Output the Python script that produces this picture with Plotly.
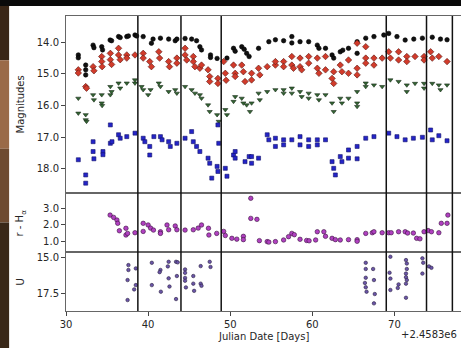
import plotly.graph_objects as go
from plotly.subplots import make_subplots

# ---------------- data ----------------
black_d = [31.5,31.5,32.4,32.4,32.4,33.3,33.4,34.35,34.45,35.37,35.55,36.4,36.6,37.4,37.6,38.4,38.6,39.4,40.4,40.6,41.5,42.5,43.3,43.5,44.5,45.3,45.9,46.3,46.5,47.6,47.6,48.4,49.6,50.4,50.6,51.4,51.7,52.0,52.3,53.45,54.7,55.5,56.5,57.5,57.5,58.5,59.55,60.6,60.8,61.6,62.4,62.6,63.4,63.7,64.4,65.45,65.45,66.5,67.5,68.7,69.3,70.3,71.3,72.35,73.4,74.6,75.6,76.4]
black_m = [14.40,14.49,14.72,14.87,15.03,14.09,14.17,14.14,14.24,13.93,13.95,13.82,13.85,13.82,13.80,13.77,13.80,13.82,14.03,13.90,13.87,13.90,13.95,13.90,13.88,13.90,13.95,14.14,14.24,14.40,14.48,14.51,14.50,14.19,14.28,14.14,14.22,14.35,14.45,14.19,13.98,13.92,13.95,13.82,14.02,13.98,13.98,14.09,14.19,14.19,14.40,14.50,14.30,14.25,14.19,13.98,14.35,13.87,13.82,13.77,13.72,13.82,13.93,13.90,13.87,13.84,13.90,13.92]

red_d = [31.5,31.5,32.4,32.5,33.3,33.4,34.35,34.35,34.4,35.4,35.4,35.55,36.4,36.4,36.6,37.4,37.4,38.4,39.4,39.4,40.2,40.4,41.3,41.4,42.5,42.6,43.5,43.5,44.5,44.5,44.7,45.5,45.5,45.7,46.3,46.5,47.3,47.5,47.5,48.5,48.5,49.2,49.4,49.5,50.4,50.6,50.6,51.4,51.6,51.8,52.6,52.6,53.45,53.6,54.5,55.5,55.5,56.5,56.5,57.5,57.5,57.7,58.5,58.5,58.7,59.55,59.55,60.6,60.6,60.8,61.6,61.6,62.4,62.6,62.6,63.4,63.6,64.4,64.4,65.45,65.45,65.45,66.5,66.5,66.5,67.5,67.5,68.5,69.3,69.5,70.5,70.5,71.5,71.5,72.5,73.6,73.6,74.4,74.6,75.4,76.4]
red_m = [14.87,14.97,15.40,15.45,14.77,14.90,14.45,14.61,14.77,14.35,14.55,14.70,14.19,14.40,14.55,14.40,14.50,14.40,14.35,14.50,14.61,14.77,14.30,14.50,14.61,14.77,14.50,14.66,14.19,14.40,14.56,14.45,14.61,14.77,14.82,14.72,14.87,15.08,15.24,15.14,15.30,14.61,14.98,15.20,14.72,14.98,15.08,14.72,14.93,15.24,15.19,14.98,14.82,15.03,14.77,14.72,14.61,14.61,14.77,14.45,14.72,14.82,14.50,14.77,14.87,14.45,14.66,14.50,14.82,14.98,14.45,14.87,15.14,15.30,14.93,14.72,14.93,14.56,14.98,14.03,14.82,15.03,14.14,14.50,14.66,14.50,14.72,14.50,14.30,14.50,14.30,14.56,14.45,14.61,14.45,14.45,14.56,14.30,14.50,14.45,14.61]

green_d = [31.5,31.5,32.4,32.4,32.5,33.3,33.4,34.35,34.35,34.4,35.4,35.4,35.55,36.4,36.6,37.4,38.4,38.4,39.2,39.4,40.0,40.3,41.3,41.5,42.5,43.3,43.5,44.5,45.3,45.7,46.3,46.5,47.3,47.5,48.4,48.6,49.4,49.6,50.4,50.6,51.4,51.6,52.0,52.4,52.6,53.45,53.6,54.5,55.5,56.5,56.5,57.5,57.5,58.5,58.7,59.55,59.55,60.6,60.8,61.6,62.4,62.6,63.4,63.6,64.4,65.45,65.45,65.45,66.5,66.5,67.5,68.5,69.5,70.5,71.5,71.5,72.5,73.6,73.6,74.6,75.4,75.6,76.4]
green_m = [15.77,16.24,16.29,16.45,16.50,15.66,15.82,15.66,15.92,16.00,15.40,15.66,15.56,15.29,15.45,15.29,15.19,15.29,15.40,15.50,15.66,15.50,15.29,15.40,15.56,15.50,15.61,15.40,15.50,15.61,15.66,15.77,15.98,16.19,16.29,16.50,16.13,16.29,15.87,15.72,15.77,15.92,15.98,16.19,15.92,15.61,15.82,15.56,15.50,15.50,15.61,15.45,15.61,15.56,15.72,15.61,15.77,15.66,15.82,15.66,15.92,16.19,15.77,15.92,15.77,15.56,15.92,16.03,15.29,15.40,15.35,15.40,15.19,15.24,15.35,15.56,15.30,15.30,15.45,15.30,15.35,15.50,15.35]

blue_d = [31.5,32.4,32.4,33.3,33.3,33.4,34.5,34.5,35.4,35.4,35.6,36.4,36.6,37.4,38.4,39.4,39.6,40.2,40.2,40.7,41.5,41.7,42.5,42.7,43.5,44.5,45.3,45.5,45.9,46.3,47.3,47.5,47.75,48.4,48.5,48.5,48.6,49.4,49.6,50.4,50.6,50.6,51.8,52.3,52.6,52.6,53.45,54.5,54.7,55.5,55.5,56.5,56.5,57.5,58.5,58.5,59.55,59.55,60.6,60.6,61.6,62.4,62.6,62.8,63.4,63.6,64.4,64.4,65.45,65.45,66.5,67.5,69.3,70.3,71.3,72.3,73.4,74.4,74.6,75.4,76.4]
blue_m = [17.71,18.19,18.45,17.14,17.45,17.68,17.45,17.55,16.61,17.19,17.14,16.92,17.03,16.98,16.87,17.03,17.14,17.29,17.56,16.98,16.98,17.08,17.14,17.29,17.19,17.03,16.82,17.14,17.29,17.45,17.66,17.82,18.29,17.92,18.08,16.61,17.19,17.98,18.23,17.56,17.45,17.66,17.77,17.61,17.61,17.82,17.66,16.92,17.08,17.03,17.29,17.08,17.24,17.08,16.98,17.24,17.08,17.29,17.08,17.24,17.08,17.77,17.98,18.19,17.61,17.77,17.40,17.66,17.29,17.68,17.03,16.98,16.87,16.98,17.08,17.03,17.00,16.77,17.08,16.95,17.11]

rha_d = [35.37,35.8,36.2,36.3,36.5,37.3,37.3,37.5,38.4,39.4,39.4,40.0,40.3,40.65,41.5,41.5,42.3,42.5,43.3,43.5,44.5,45.5,46.1,46.5,47.35,47.4,48.35,49.2,49.4,50.2,50.8,51.6,51.6,52.5,52.5,53.25,53.55,54.5,54.7,55.5,56.5,57.1,57.5,57.8,58.5,59.3,59.6,60.4,60.6,61.4,61.6,62.4,62.8,63.4,64.4,65.45,65.45,66.5,67.3,67.5,68.5,69.3,69.6,70.5,71.3,71.6,72.3,72.7,73.1,73.6,74.1,74.5,75.4,75.7,76.4,76.5]
rha_v = [2.59,2.45,2.29,2.09,1.64,1.79,1.38,1.48,1.52,2.09,1.60,1.99,1.80,1.68,1.58,1.48,1.99,1.70,1.93,1.70,1.68,1.70,1.80,1.99,1.79,1.38,1.48,1.60,1.35,1.18,1.13,1.30,1.10,3.61,2.39,2.33,1.04,0.98,0.95,0.98,1.08,1.28,1.48,1.40,1.12,1.05,1.03,1.08,1.58,1.58,1.30,1.18,1.10,1.08,1.10,1.10,1.00,1.48,1.52,1.58,1.52,1.52,1.52,1.58,1.58,1.50,1.50,1.18,1.15,1.58,1.65,1.58,1.52,2.09,2.09,2.59]

u_d = [37.6,37.6,37.5,37.5,38.5,38.5,38.3,40.45,40.45,41.5,41.4,41.55,42.5,42.4,42.5,42.6,43.4,43.6,43.5,43.4,44.5,44.5,44.5,44.5,44.6,45.5,45.5,45.6,46.4,46.5,46.4,47.5,47.6,66.5,66.5,66.5,66.4,66.5,66.6,67.4,67.5,67.6,67.5,69.5,69.4,69.5,69.5,70.4,70.5,71.4,71.5,71.5,71.4,71.4,71.5,71.4,71.4,73.4,73.5,73.4,74.2,74.5]
u_v = [15.51,15.85,16.55,17.94,15.74,16.90,17.20,15.35,16.90,15.85,16.00,17.36,15.28,15.60,16.43,17.00,15.28,15.32,16.27,17.87,15.81,16.05,16.40,16.60,17.06,16.27,16.80,17.30,16.80,16.95,15.58,15.28,15.64,15.35,15.78,16.39,16.75,17.05,17.36,15.78,16.55,17.52,18.17,14.93,16.04,16.45,17.24,17.10,16.85,15.16,15.40,15.78,16.10,16.35,16.55,16.80,17.78,15.04,15.35,16.10,15.60,15.70]

event_days = [38.75, 44.0, 48.9, 69.0, 73.9, 77.05]

x_ticks = [30, 40, 50, 60, 70]
mag_ticks = [14.0, 15.0, 16.0, 17.0, 18.0]
rha_ticks = [1.0, 2.0, 3.0]
u_ticks = [15.0, 17.5]

# ---------------- figure ----------------
fig = make_subplots(rows=3, cols=1, shared_xaxes=True, vertical_spacing=0,
                    row_heights=[0.6, 0.2, 0.2])

def add(x, y, row, sym, size, fill, edge):
    fig.add_trace(go.Scatter(x=x, y=y, mode="markers",
                             marker=dict(symbol=sym, size=size, color=fill,
                                         line=dict(color=edge, width=0.6)),
                             showlegend=False), row=row, col=1)

add(black_d, black_m, 1, "circle", 4.5, "#111111", "#000000")
add(red_d, red_m, 1, "diamond", 5, "#d13b2b", "#5a1a12")
add(green_d, green_m, 1, "triangle-down", 4.5, "#336633", "#1a2a1a")
add(blue_d, blue_m, 1, "square", 4, "#2424c8", "#12126a")
add(rha_d, rha_v, 2, "circle", 4.5, "#b040c0", "#3a1040")
add(u_d, u_v, 3, "circle", 3.5, "#6a55a8", "#2a2040")

for d in event_days:
    fig.add_shape(type="line", x0=d, x1=d, y0=0, y1=1, xref="x", yref="paper",
                  line=dict(color="#111111", width=1.5))

axis_common = dict(showline=True, mirror=True, linecolor="#666666", linewidth=1,
                   showgrid=False, zeroline=False, ticks="outside", ticklen=4,
                   tickcolor="#444444", tickfont=dict(size=10, color="#262626",
                                                       family="DejaVu Sans"))

fig.update_xaxes(range=[30, 78.1], **axis_common)
fig.update_xaxes(showticklabels=False, ticks="", row=1, col=1)
fig.update_xaxes(showticklabels=False, ticks="", row=2, col=1)
fig.update_xaxes(tickvals=x_ticks, row=3, col=1)

fig.update_yaxes(**axis_common)
fig.update_yaxes(range=[18.76, 13.17], tickvals=mag_ticks, tickformat=".1f", row=1, col=1)
fig.update_yaxes(range=[0.35, 3.93], tickvals=rha_ticks, tickformat=".1f", row=2, col=1)
fig.update_yaxes(range=[18.7, 14.6], tickvals=u_ticks, tickformat=".1f", row=3, col=1)

font = dict(family="DejaVu Sans", size=10, color="#262626")
ann = [
    dict(text="Magnitudes", x=-0.114, y=0.7, textangle=-90),
    dict(text="r - H<sub>α</sub>", x=-0.114, y=0.3, textangle=-90),
    dict(text="U", x=-0.114, y=0.1, textangle=-90),
    dict(text="Julian Date [Days]", x=0.5, y=-0.085, textangle=0),
]
for a in ann:
    fig.add_annotation(xref="paper", yref="paper", showarrow=False, font=font,
                       xanchor="center", yanchor="middle", **a)
fig.add_annotation(text="+2.4583e6", xref="paper", yref="paper", x=0.995, y=-0.081,
                   xanchor="right", yanchor="middle", showarrow=False, font=font)

# background strips (photo edge / dark band)
strips = [
    (1.054, 0.85, "#3a2616"), (0.85, 0.55, "#9a6a48"), (0.55, 0.3, "#6e4a30"),
    (0.3, -0.13, "#3a2818"),
]
for y1, y0, c in strips:
    fig.add_shape(type="rect", xref="paper", yref="paper", x0=-0.168, x1=-0.144,
                  y0=y0, y1=y1, fillcolor=c, line=dict(width=0), layer="below")
fig.add_shape(type="rect", xref="paper", yref="paper", x0=-0.168, x1=1.01,
              y0=1.034, y1=1.06, fillcolor="#0a0a0a", line=dict(width=0), layer="below")

fig.update_layout(width=461, height=348, margin=dict(l=66, r=0, t=16, b=37),
                  paper_bgcolor="white", plot_bgcolor="white",
                  font=font)

fig.write_html("out.html", config={"displayModeBar": False},
               post_script="document.body.style.margin='0';")
